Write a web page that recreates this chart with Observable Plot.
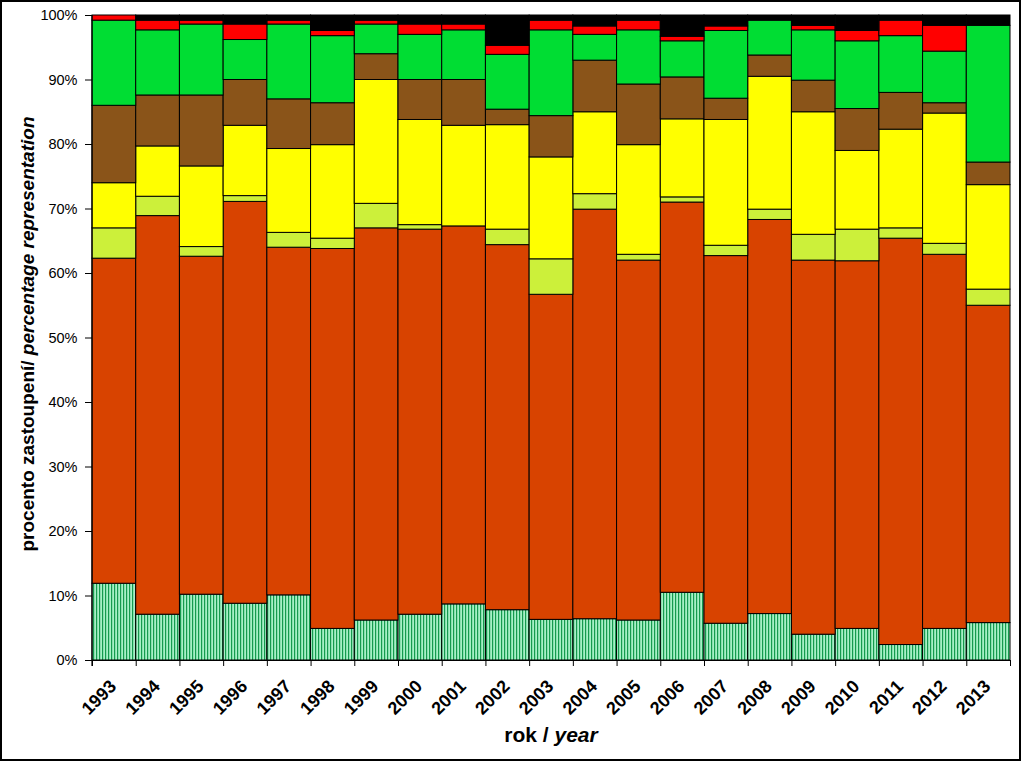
<!DOCTYPE html>
<html>
<head>
<meta charset="utf-8">
<script src="https://cdn.jsdelivr.net/npm/d3@7"></script>
<script src="https://cdn.jsdelivr.net/npm/@observablehq/plot@0.6"></script>
<style>
  html, body { margin: 0; padding: 0; background: #fff; }
  #chart { width: 1024px; height: 762px; }
  svg { display: block; }
</style>
</head>
<body>
<div id="chart"></div>
<script>
// ---- data (percent shares, bottom to top) ----
const years = ["1993","1994","1995","1996","1997","1998","1999","2000","2001","2002","2003",
               "2004","2005","2006","2007","2008","2009","2010","2011","2012","2013"];
const seriesNames = ["skupina 1","skupina 2","skupina 3","skupina 4","skupina 5","skupina 6","skupina 7","skupina 8"];
const s1 = [11.9, 7.1,10.2, 8.8,10.1, 4.9, 6.2, 7.1, 8.7, 7.8, 6.3, 6.4, 6.2,10.5, 5.7, 7.2, 4.0, 4.9, 2.4, 4.9, 5.8];
const s2 = [50.4,61.8,52.4,62.3,53.9,58.9,60.8,59.7,58.6,56.6,50.4,63.5,55.8,60.5,57.0,61.1,58.0,57.0,63.0,58.0,49.2];
const s3 = [ 4.7, 3.0, 1.5, 0.9, 2.3, 1.6, 3.8, 0.7, 0.0, 2.4, 5.5, 2.4, 0.9, 0.8, 1.6, 1.6, 4.0, 4.9, 1.6, 1.7, 2.5];
const s4 = [ 7.0, 7.8,12.5,10.9,13.0,14.5,19.2,16.3,15.6,16.2,15.8,12.7,17.0,12.1,19.5,20.6,19.0,12.2,15.3,20.2,16.2];
const s5 = [12.0, 7.9,11.0, 7.1, 7.7, 6.5, 4.0, 6.2, 7.1, 2.4, 6.4, 8.0, 9.4, 6.5, 3.3, 3.3, 4.9, 6.5, 5.7, 1.6, 3.5];
const s6 = [13.2,10.1,11.0, 6.2,11.6,10.4, 4.6, 7.0, 7.7, 8.5,13.3, 4.0, 8.4, 5.6,10.5, 5.4, 7.8,10.5, 8.8, 8.0,21.2];
const s7 = [ 0.8, 1.5, 0.6, 2.4, 0.6, 0.8, 0.6, 1.6, 0.9, 1.4, 1.5, 1.3, 1.5, 0.7, 0.7, 0.0, 0.7, 1.6, 2.4, 4.0, 0.0];
const s8 = [ 0.0, 0.8, 0.8, 1.4, 0.8, 2.4, 0.8, 1.4, 1.4, 4.7, 0.8, 1.7, 0.8, 3.3, 1.7, 0.8, 1.6, 2.4, 0.8, 1.6, 1.6];
const seriesValues = [s1, s2, s3, s4, s5, s6, s7, s8];
const seriesColors = ["url(#stripes)", "#D84300", "#CCF03A", "#FFFF00", "#8A5419", "#00DD33", "#FF0000", "#000000"];
const yTicks = [0,10,20,30,40,50,60,70,80,90,100];

// long table built from the arrays
const table = [];
seriesNames.forEach((name, si) => {
  years.forEach((yr, yi) => table.push({year: yr, series: name, value: seriesValues[si][yi]}));
});

const font = "'Liberation Sans', Arial, Helvetica, sans-serif";
const W = 1024, H = 762;
const mL = 92, mR = 14, mT = 15, mB = 102;
const bw = (W - mL - mR) / years.length;

const chart = Plot.plot({
  width: W,
  height: H,
  marginLeft: mL,
  marginRight: mR,
  marginTop: mT,
  marginBottom: mB,
  style: {fontFamily: font, background: "#fff", color: "#000"},
  x: {type: "band", domain: years, padding: 0, round: false, label: null, axis: null},
  y: {domain: [0, 100], label: null},
  color: {domain: seriesNames, range: seriesColors},
  marks: [
    Plot.barY(table, Plot.stackY({order: null}, {
      x: "year", y: "value", z: "series", fill: "series",
      stroke: "#000", strokeWidth: 1, inset: 0
    })),
    Plot.ruleY([0], {stroke: "#000", strokeWidth: 1.2}),
    Plot.axisY({
      ticks: yTicks, tickFormat: d => d + "%", tickSize: 7, tickPadding: 8,
      fontSize: 14.5, label: null, stroke: "#000"
    }),
    // tick marks at band edges
    Plot.axisX({ticks: years, tickFormat: () => "", tickSize: 6, dx: -bw / 2, label: null}),
    Plot.axisX({ticks: [years[years.length - 1]], tickFormat: () => "", tickSize: 6, dx: bw / 2, label: null}),
    // rotated year labels
    Plot.text(years, {
      x: d => d, y: 0, text: d => d, rotate: -45, textAnchor: "end", lineAnchor: "bottom",
      dx: 3, dy: 27, fontSize: 18, fontWeight: "bold", fill: "#000"
    })
  ]
});

document.getElementById("chart").appendChild(chart);

const svg = d3.select(chart);
// stripe pattern for the bottom series
const defs = svg.insert("defs", ":first-child");
const pat = defs.append("pattern")
  .attr("id", "stripes").attr("patternUnits", "userSpaceOnUse")
  .attr("width", 3).attr("height", 10);
pat.append("rect").attr("width", 3).attr("height", 10).attr("fill", "#A6F0C6");
pat.append("rect").attr("x", 0).attr("width", 1.2).attr("height", 10).attr("fill", "#159A4E");

// left axis line
svg.append("line")
  .attr("x1", mL).attr("x2", mL).attr("y1", mT).attr("y2", H - mB + 6)
  .attr("stroke", "#000").attr("stroke-width", 1.2);

// axis titles
const xt = svg.append("text")
  .attr("x", 551).attr("y", 742).attr("text-anchor", "middle")
  .attr("font-family", font).attr("font-size", 21).attr("font-weight", "bold");
xt.append("tspan").text("rok / ");
xt.append("tspan").attr("font-style", "italic").text("year");

const yCenter = 334, yLen = 447;
let yFont = 17.5;
const yt = svg.append("text")
  .attr("x", 0).attr("y", 0).attr("text-anchor", "middle")
  .attr("font-family", font).attr("font-size", yFont).attr("font-weight", "bold");
yt.append("tspan").text("procento zastoupení/ ");
yt.append("tspan").attr("font-style", "italic").text("percentage representation");
// fit the rotated title to the reference length and centre it
let bb = yt.node().getBBox();
if (bb.width > 0 && Math.abs(bb.width - yLen) > 8) {
  yFont = Math.max(14, Math.min(19, yFont * yLen / bb.width));
  yt.attr("font-size", yFont);
  bb = yt.node().getBBox();
}
const shift = bb.width > 0 ? (bb.x + bb.width / 2) : 0;
yt.attr("transform", `translate(34,${yCenter}) rotate(-90) translate(${-shift},0)`);

// outer border
svg.append("rect")
  .attr("x", 1).attr("y", 1).attr("width", 1019).attr("height", 759)
  .attr("fill", "none").attr("stroke", "#000").attr("stroke-width", 2);
</script>
</body>
</html>
